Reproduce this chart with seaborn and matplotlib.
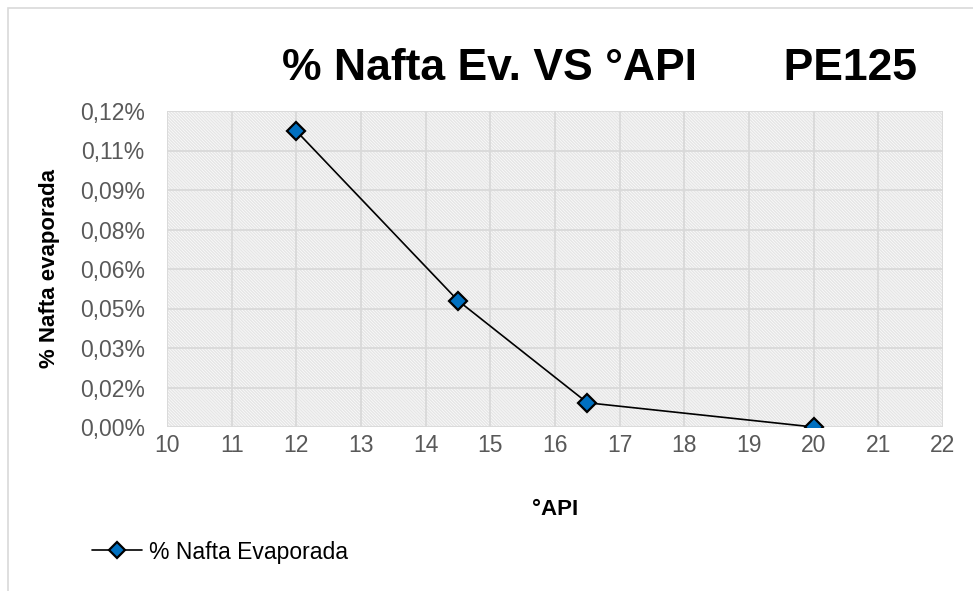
import numpy as np
import pandas as pd
import seaborn as sns
import matplotlib.pyplot as plt
from matplotlib.patches import Rectangle
from matplotlib.ticker import FuncFormatter, MultipleLocator
from matplotlib.lines import Line2D

api = [12, 14.5, 16.5, 20]
nafta_pct = [0.1124, 0.0480, 0.0092, 0.0]
series_name = "% Nafta Evaporada"
title_text = "% Nafta Ev. VS °API       PE125"
x_label = "°API"
y_label = "% Nafta evaporada"

df = pd.DataFrame({"api": api, "nafta": nafta_pct})

sns.set_style("white")
plt.rcParams['font.family'] = ['Liberation Sans', 'DejaVu Sans']
plt.rcParams['text.color'] = 'black'
plt.rcParams['axes.labelcolor'] = 'black'
plt.rcParams['hatch.linewidth'] = 1.1

fig = plt.figure(figsize=(9.73, 5.91), dpi=100)
ax = fig.add_axes([167 / 973, 1 - 427 / 591, 776 / 973, 316 / 591])

# chart area border
fig.patches.append(Rectangle((8 / 973, -0.1), 1.2, 1 - 8 / 591 + 0.1, transform=fig.transFigure,
                             fill=False, edgecolor='#d9d9d9', lw=1.2))

# hatched plot area like excel pattern fill
ax.add_patch(Rectangle((0, 0), 1, 1, transform=ax.transAxes, facecolor='white',
                       edgecolor='#e6e6e6', hatch='\\' * 11, lw=0, zorder=0))

sns.lineplot(data=df, x="api", y="nafta", ax=ax, color='black', lw=1.2, zorder=3,
             marker='D', markersize=9, markerfacecolor='#0070C0', markeredgecolor='black',
             markeredgewidth=1.6, legend=False)

ax.set_xlim(10, 22)
ax.set_ylim(0, 0.12)
ax.xaxis.set_major_locator(MultipleLocator(1))
ax.yaxis.set_major_locator(MultipleLocator(0.015))
ax.yaxis.set_major_formatter(FuncFormatter(
    lambda v, p: f"{round(v + 1e-9, 2):.2f}".replace('.', ',') + '%'))
ax.grid(True, color='#d9d9d9', lw=1.3, zorder=1)
ax.set_axisbelow(True)
for s in ax.spines.values():
    s.set_visible(False)
ax.tick_params(axis='both', length=0, labelsize=16.5, colors='#595959')
ax.tick_params(axis='y', pad=16)
ax.tick_params(axis='x', pad=5)

ax.set_xlabel(x_label, fontsize=16, fontweight='bold', labelpad=30)
ax.set_ylabel(y_label, fontsize=16, fontweight='bold', labelpad=14)

fig.text(600 / 973, 1 - 68 / 591, title_text, ha='center', va='center',
         fontsize=32, fontweight='bold', color='black')

handle = Line2D([], [], color='black', lw=1.2, marker='D', markersize=8,
                markerfacecolor='#0070C0', markeredgecolor='black', markeredgewidth=1.6)
fig.legend([handle], [series_name], loc='center left', bbox_to_anchor=(92 / 973, 1 - 552 / 591),
           frameon=False, fontsize=16.5, handlelength=2.2, handletextpad=0.3,
           borderpad=0, borderaxespad=0, labelcolor='black')

fig.savefig("out.png", dpi=100)
